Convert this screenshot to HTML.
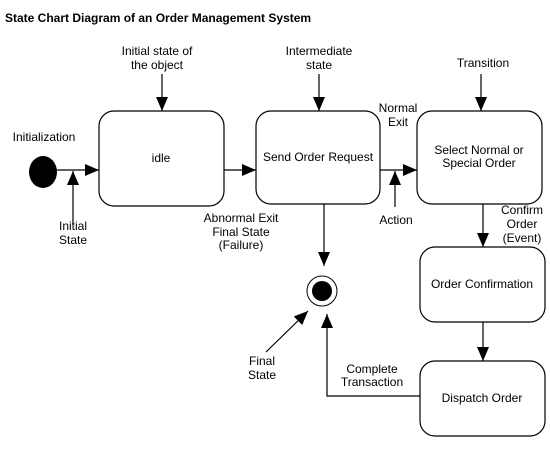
<!DOCTYPE html>
<html><head><style>
body{margin:0;background:#fff;}
svg text{font-family:"Liberation Sans",Arial,sans-serif;font-size:12px;fill:#000;}
</style></head><body>
<svg width="550" height="450" viewBox="0 0 550 450" xmlns="http://www.w3.org/2000/svg">
<defs>
<marker id="a" markerWidth="10" markerHeight="10" refX="10" refY="5" orient="auto" markerUnits="userSpaceOnUse">
<path d="M0,0 L10,5 L0,10 z" fill="#000"/></marker>
<marker id="b" markerWidth="14" markerHeight="12" refX="14" refY="6" orient="auto" markerUnits="userSpaceOnUse">
<path d="M0,0 L14,6 L0,12 z" fill="#000"/></marker>
</defs>
<text x="5" y="22" style="font-weight:bold;font-size:12px">State Chart Diagram of an Order Management System</text>
<g fill="#fff" stroke="#000" stroke-width="1.2">
<rect x="99" y="111" width="125" height="95" rx="15"/>
<rect x="256" y="111" width="124" height="93" rx="15"/>
<rect x="417" y="111" width="125" height="93" rx="15"/>
<rect x="420" y="247" width="125" height="75" rx="15"/>
<rect x="420" y="361" width="125" height="75" rx="15"/>
</g>
<ellipse cx="43" cy="172" rx="14" ry="16" fill="#000"/>
<circle cx="322" cy="291" r="15" fill="#fff" stroke="#000" stroke-width="1"/>
<circle cx="322" cy="291" r="10" fill="#000"/>
<g stroke="#000" stroke-width="1.2" fill="none">
<line x1="57" y1="170" x2="99" y2="170" marker-end="url(#b)"/>
<line x1="224" y1="170" x2="256" y2="170" marker-end="url(#b)"/>
<line x1="380" y1="170" x2="417" y2="170" marker-end="url(#b)"/>
<line x1="73" y1="225" x2="73" y2="171" marker-end="url(#b)"/>
<line x1="395" y1="207" x2="395" y2="171" marker-end="url(#b)"/>
<line x1="162" y1="74" x2="162" y2="111" marker-end="url(#b)"/>
<line x1="319" y1="74" x2="319" y2="111" marker-end="url(#b)"/>
<line x1="481" y1="74" x2="481" y2="111" marker-end="url(#b)"/>
<line x1="324" y1="204" x2="324" y2="266" marker-end="url(#b)"/>
<line x1="483" y1="204" x2="483" y2="247" marker-end="url(#b)"/>
<line x1="483" y1="322" x2="483" y2="361" marker-end="url(#b)"/>
<polyline points="420,396 327,396 327,314" marker-end="url(#b)"/>
<line x1="266" y1="352" x2="308" y2="311" marker-end="url(#b)"/>
</g>
<g text-anchor="middle">
<text x="161" y="162">idle</text>
<text x="318" y="161">Send Order Request</text>
<text x="479" y="154">Select Normal or</text>
<text x="479" y="167">Special Order</text>
<text x="482" y="288">Order Confirmation</text>
<text x="482" y="402">Dispatch Order</text>
<text x="157" y="55">Initial state of</text>
<text x="157" y="69">the object</text>
<text x="319" y="55">Intermediate</text>
<text x="319" y="69">state</text>
<text x="483" y="67">Transition</text>
<text x="44" y="141">Initialization</text>
<text x="73" y="230">Initial</text>
<text x="73" y="244">State</text>
<text x="241" y="222">Abnormal Exit</text>
<text x="241" y="236">Final State</text>
<text x="241" y="249">(Failure)</text>
<text x="398" y="112">Normal</text>
<text x="398" y="126">Exit</text>
<text x="396" y="224">Action</text>
<text x="522" y="214">Confirm</text>
<text x="522" y="228">Order</text>
<text x="522" y="242">(Event)</text>
<text x="262" y="365">Final</text>
<text x="262" y="379">State</text>
<text x="372" y="373">Complete</text>
<text x="372" y="386">Transaction</text>
</g>
</svg>
</body></html>
